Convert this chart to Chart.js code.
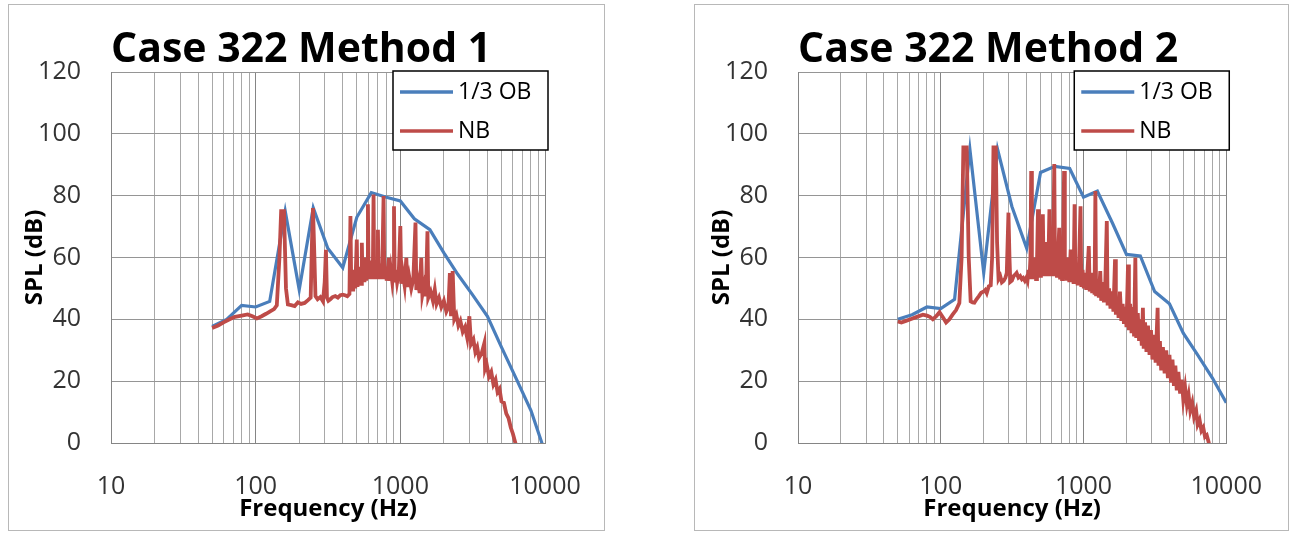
<!DOCTYPE html>
<html lang="en">
<head>
<meta charset="UTF-8">
<title>Case 322 SPL</title>
<script src="https://cdn.jsdelivr.net/npm/chart.js"></script>
<style>
  html, body { margin: 0; padding: 0; background: #fff; }
  body { width: 1291px; height: 533px; position: relative; overflow: hidden; }
  .frame { position: absolute; border: 1px solid #b8b8b8; }
  canvas { position: absolute; top: 0; }
</style>
</head>
<body>
<div class="frame" style="left:8px; top:4px; width:595px; height:525px;"></div>
<div class="frame" style="left:694px; top:4px; width:593px; height:525px;"></div>
<canvas id="method1" width="645" height="533" style="left:0"></canvas>
<canvas id="method2" width="646" height="533" style="left:645px"></canvas>
<script>
// 1/3 octave band centres
const obHz = [50, 63, 80, 100, 125, 160, 200, 250, 315, 400, 500, 630, 800, 1000, 1250, 1600, 2000, 2500, 3150, 4000, 5000, 6300, 8000, 10000];
const m1ObDb = [37.7, 40, 44.5, 44, 45.8, 75, 49.6, 76.1, 63, 56.7, 73, 81, 79.5, 78.3, 72.5, 69, 61.5, 54.5, 48, 41, 31, 21, 10.5, -3];
const m2ObDb = [40, 41.5, 44, 43.5, 46.5, 95, 55, 95, 76.5, 63, 87.5, 89.5, 88.8, 79.5, 81.5, 71, 61, 60.5, 49, 45, 35.5, 28.5, 21, 13];

// narrowband, method 1
const m1NbHz = [50, 55, 60, 66, 72, 80, 88, 95, 102, 110, 118, 126, 134, 140, 146, 150, 157, 162, 167, 176,
  186, 196, 206, 218, 230, 240, 245, 249, 254, 259, 268, 280, 292, 300, 306, 311, 318, 328, 340, 355,
  370, 385, 400, 415, 430, 445, 452, 458, 466, 472, 480, 488, 500, 506, 515, 522, 530, 537, 542, 548,
  556, 565, 573, 580, 590, 597, 604, 615, 625, 635, 645, 653, 660, 670, 680, 690, 700, 708, 720, 735,
  750, 766, 775, 790, 805, 820, 835, 845, 860, 880, 895, 904, 915, 930, 950, 975, 1000, 1015, 1040, 1070,
  1100, 1120, 1150, 1190, 1230, 1273, 1290, 1320, 1360, 1395, 1420, 1460, 1500, 1540, 1560, 1620, 1680, 1730, 1780, 1850,
  1920, 2000, 2080, 2150, 2200, 2240, 2300, 2360, 2440, 2520, 2600, 2700, 2800, 2900, 3000, 3080, 3200, 3300, 3400, 3500,
  3650, 3810, 3850, 3950, 4100, 4250, 4400, 4550, 4700, 4850, 5000, 5200, 5400, 5600, 5800, 6000, 6200, 6500];
const m1NbDb = [37.2, 38, 39, 40, 40.8, 41.2, 41.6, 41, 40.3, 41, 41.8, 42.6, 43.3, 44.5, 60, 75, 75, 50, 44.8, 44.6,
  44.3, 45.5, 45, 45.3, 46.2, 47, 65, 76, 62, 47.5, 46.5, 47.2, 45.8, 52, 62.5, 47, 46, 46.5, 47.2, 47.5,
  47, 47.8, 48, 47.8, 47.5, 48.2, 73.4, 50, 55, 49, 56, 50, 65.8, 50.5, 57, 51, 56, 51.5, 64.8, 52,
  57, 52, 60, 52.5, 58, 77.2, 53, 58, 53, 59, 53, 80.4, 53.5, 58, 53, 57, 69, 53, 58, 53,
  57, 79.9, 53, 57, 52.5, 56, 59.9, 52.5, 56, 52, 55, 76.6, 52, 56, 52, 55, 70.2, 51.5, 55, 51,
  59.9, 50.5, 54, 50, 53, 71.3, 49.5, 52.5, 48.5, 59.9, 48, 51, 47.5, 68.5, 47, 49, 46, 49.6, 45, 47,
  44, 46, 42.5, 44, 55, 41, 55.6, 40, 41.5, 38, 39.5, 36, 37.5, 34, 41, 32, 33.5, 29.5, 31, 27.5,
  29, 32.3, 24, 25.5, 21.5, 23, 19, 20.5, 16.5, 17.5, 13.5, 13, 9.5, 8, 5, 3, 0.5, -3];

// narrowband, method 2
const m2NbHz = [50, 53, 57, 62, 68, 75, 80, 84, 88, 93, 98, 104, 109, 115, 121, 128, 135, 140, 144, 152,
  157, 162, 167, 172, 178, 185, 192, 200, 205, 210, 217, 224, 229, 234, 243, 248, 254, 261, 268, 276,
  284, 290, 298, 303, 307, 315, 324, 333, 340, 350, 360, 370, 378, 388, 398, 405, 412, 418, 425, 430,
  435, 442, 450, 458, 465, 472, 480, 487, 495, 503, 511, 519, 526, 535, 545, 553, 560, 568, 577, 585,
  595, 605, 613, 624, 632, 642, 652, 662, 676, 685, 695, 707, 718, 731, 740, 752, 765, 780, 795, 813,
  825, 840, 852, 866, 878, 893, 910, 930, 953, 965, 985, 1005, 1025, 1045, 1065, 1089, 1105, 1130, 1150, 1175,
  1195, 1211, 1225, 1250, 1280, 1310, 1330, 1360, 1390, 1420, 1456, 1475, 1510, 1545, 1580, 1620, 1663, 1685, 1725, 1760,
  1800, 1840, 1880, 1920, 1960, 2000, 2050, 2080, 2120, 2170, 2220, 2260, 2307, 2340, 2400, 2450, 2500, 2560, 2606, 2640,
  2700, 2760, 2830, 2900, 2970, 3040, 3120, 3200, 3305, 3350, 3430, 3500, 3600, 3700, 3800, 3900, 4000, 4100, 4200, 4300,
  4400, 4500, 4620, 4750, 4880, 5000, 5150, 5300, 5450, 5600, 5780, 5950, 6150, 6300, 6500, 6700, 6900, 7100, 7300, 7520, 7800];
const m2NbDb = [39.3, 39, 39.5, 40.1, 40.8, 41.5, 41.2, 40.8, 40, 41, 42.3, 40.5, 39, 40, 41.5, 43, 45.3, 60, 95.6, 95.6,
  60, 45.8, 45.5, 45.4, 46.5, 47.5, 48.6, 49, 49.5, 48.5, 50.7, 51, 60, 95.6, 95.6, 65, 53, 54, 52, 52.5,
  53.5, 55, 74.5, 60, 52.1, 52.5, 54, 54.5, 55, 53.5, 54, 53, 53.4, 52.5, 53.5, 52.5, 56, 53, 60, 88,
  53, 57, 53, 60, 53, 58, 75.6, 53.5, 58, 53.5, 62, 74, 54, 58, 54, 65, 54, 59, 75.6, 54,
  58, 54, 62, 90.2, 54, 58, 53.5, 60, 69.6, 53.5, 58, 53, 61, 88, 53, 57, 52.5, 60, 52, 62.6,
  52, 57, 51.5, 77.2, 51.5, 56, 51, 58, 76.6, 50.5, 56, 50, 55, 49.5, 55, 63.7, 49, 55, 48.5, 54,
  48, 81.5, 47.5, 53, 47, 55.6, 46, 52, 45.5, 51, 71.8, 44.5, 50, 43.5, 49, 42.5, 59.4, 41.5, 47, 40.5,
  49, 39.5, 45, 38.5, 44, 37.5, 57.7, 36.5, 45, 35.5, 44, 34.5, 59.9, 34, 42, 33, 40, 31.5, 43.7, 30.5,
  39, 29.5, 38, 28.5, 36.5, 27, 35, 26, 43.7, 25, 33, 23.5, 31, 22.5, 30, 21, 28.5, 19.5, 27, 18.5,
  25, 17, 23, 16, 20.5, 14, 18, 12.5, 15.5, 10.5, 13, 8.5, 10.5, 6, 7.5, 4, 5, 2, 2.5, 0.3, -3];

const xTickLabels = [10, 100, 1000, 10000];
const yMin = 0, yMax = 120, yStep = 20;

// grid lines at 1..9 per decade
const xGridHz = [];
[10, 100, 1000].forEach(d => { for (let m = 1; m < 10; m++) xGridHz.push(m * d); });
xGridHz.push(10000);

const decor = {
  id: 'decor',
  afterDraw(chart, args, opts) {
    const { ctx, chartArea: a } = chart;
    ctx.save();
    ctx.fillStyle = '#000';
    ctx.font = 'bold 41px "Open Sans"';
    ctx.textAlign = 'left';
    ctx.textBaseline = 'alphabetic';
    ctx.fillText(opts.title, a.left, 62);

    const w = 155, h = 79, x = a.right + 3 - w, y = a.top - 1;
    ctx.fillStyle = '#fff';
    ctx.fillRect(x, y, w, h);
    ctx.lineWidth = 1.5;
    ctx.strokeStyle = '#000';
    ctx.strokeRect(x, y, w, h);
    ctx.font = '23px "Open Sans"';
    ctx.textBaseline = 'middle';
    chart.data.datasets.forEach((ds, i) => {
      const ly = y + 21 + i * 39;
      ctx.strokeStyle = ds.borderColor;
      ctx.lineWidth = 3.5;
      ctx.beginPath();
      ctx.moveTo(x + 7, ly);
      ctx.lineTo(x + 60, ly);
      ctx.stroke();
      ctx.fillStyle = '#000';
      ctx.fillText(ds.label, x + 65, ly);
    });
    ctx.restore();
  }
};

const tickFont = { family: 'Open Sans', size: 25 };
const titleFont = { family: 'Open Sans', size: 24, weight: 'bold' };

function makeChart(id, title, obDb, nbHz, nbDb, padLeft, padRight) {
  return new Chart(document.getElementById(id), {
    type: 'line',
    data: {
      datasets: [
        { label: '1/3 OB', data: obHz.map((f, i) => ({ x: f, y: obDb[i] })),
          borderColor: '#4a7ebb', borderWidth: 3.2, pointRadius: 0, order: 1 },
        { label: 'NB', data: nbHz.map((f, i) => ({ x: f, y: nbDb[i] })),
          borderColor: '#be4b48', borderWidth: 3.8, pointRadius: 0, order: 0 }
      ]
    },
    options: {
      responsive: false,
      animation: false,
      layout: { padding: { left: padLeft, right: padRight, top: 72, bottom: 0 } },
      plugins: { legend: { display: false }, tooltip: { enabled: false }, decor: { title } },
      scales: {
        x: {
          type: 'logarithmic', min: 10, max: 10000,
          afterBuildTicks: s => { s.ticks = xGridHz.map(v => ({ value: v })); },
          afterFit: s => { s.height = 90; },
          ticks: {
            autoSkip: false, maxRotation: 0, padding: 29, color: '#333', font: tickFont,
            callback: v => xTickLabels.includes(v) ? String(v) : ''
          },
          grid: { drawTicks: false, color: c => (c.tick && xTickLabels.includes(c.tick.value)) ? '#858585' : '#a8a8a8' },
          border: { color: '#858585' },
          title: { display: true, text: 'Frequency (Hz)', color: '#000', font: titleFont, padding: { top: 0, bottom: 9 } }
        },
        y: {
          min: yMin, max: yMax,
          afterFit: s => { s.width = 111; },
          ticks: { stepSize: yStep, padding: 30, color: '#333', font: tickFont },
          grid: { drawTicks: false, color: '#959595' },
          border: { color: '#858585' },
          title: { display: true, text: 'SPL (dB)', color: '#000', font: titleFont, padding: { top: 21, bottom: 0 } }
        }
      }
    },
    plugins: [decor]
  });
}

makeChart('method1', 'Case 322 Method 1', m1ObDb, m1NbHz, m1NbDb, 0, 100);
makeChart('method2', 'Case 322 Method 2', m2ObDb, m2NbHz, m2NbDb, 42, 58);
</script>
</body>
</html>
